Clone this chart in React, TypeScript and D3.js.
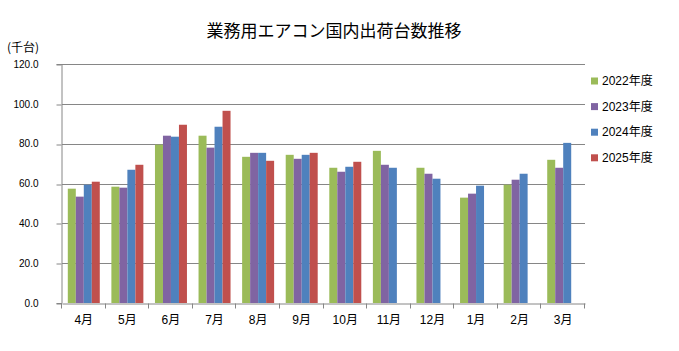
import { useEffect, useRef } from "react";
import * as d3 from "d3";

const WIDTH = 679;
const HEIGHT = 351;
const MARGIN = { top: 64, right: 94, bottom: 48, left: 62 };
const TICK_SIZE = 5;
const GRID_COLOR = "#868686";
const BAR_COLORS = ["#9BBB59", "#8064A2", "#4F81BD", "#C0504D"];
const JP_FONT = "'Noto Sans CJK JP', sans-serif";
const NUM_FONT = "'Liberation Sans', 'Noto Sans CJK JP', sans-serif";

const TITLE = "業務用エアコン国内出荷台数推移";
const UNIT_LABEL = "(千台)";
const MONTHS = ["4月", "5月", "6月", "7月", "8月", "9月", "10月", "11月", "12月", "1月", "2月", "3月"];
const SERIES = ["2022年度", "2023年度", "2024年度", "2025年度"];
const Y_TICKS = [0, 20, 40, 60, 80, 100, 120];

const FY2022 = [57.4, 58.4, 79.5, 84.0, 73.4, 74.4, 67.9, 76.4, 67.9, 52.9, 59.4, 71.9];
const FY2023 = [53.4, 57.9, 84.0, 78.0, 75.4, 72.4, 65.9, 69.4, 64.9, 54.9, 61.9, 67.9];
const FY2024 = [59.4, 66.9, 83.5, 88.5, 75.4, 74.4, 68.4, 67.9, 62.4, 58.9, 64.9, 80.4];
const FY2025 = [60.9, 69.4, 89.5, 96.5, 71.4, 75.4, 70.9, null, null, null, null, null];

const VALUES: (number | null)[][] = [FY2022, FY2023, FY2024, FY2025];

export default function App() {
  const svgRef = useRef<SVGSVGElement>(null);

  useEffect(() => {
    if (!svgRef.current) return;
    const svg = d3.select(svgRef.current);
    svg.selectAll("*").remove();

    const x = d3
      .scaleBand<string>()
      .domain(MONTHS)
      .range([MARGIN.left, WIDTH - MARGIN.right])
      .paddingInner(0)
      .paddingOuter(0);

    const xSeries = d3
      .scaleBand<string>()
      .domain(SERIES)
      .range([0, x.bandwidth()])
      .paddingInner(0)
      .paddingOuter(0.725);

    const y = d3
      .scaleLinear()
      .domain([0, 120])
      .range([HEIGHT - MARGIN.bottom, MARGIN.top]);

    const crisp = (v: number) => Math.round(v) + 0.5;

    // grid lines
    svg
      .append("g")
      .selectAll("line")
      .data(Y_TICKS.filter((t) => t > 0))
      .enter()
      .append("line")
      .attr("x1", MARGIN.left)
      .attr("x2", WIDTH - MARGIN.right)
      .attr("y1", (d) => crisp(y(d)))
      .attr("y2", (d) => crisp(y(d)))
      .attr("stroke", GRID_COLOR)
      .attr("stroke-width", 1);

    // bars
    const rows = MONTHS.flatMap((m, i) =>
      SERIES.map((s, j) => ({ month: m, series: s, idx: j, value: VALUES[j][i] }))
    ).filter((d) => d.value !== null);

    svg
      .append("g")
      .selectAll("rect")
      .data(rows)
      .enter()
      .append("rect")
      .attr("x", (d) => (x(d.month) ?? 0) + (xSeries(d.series) ?? 0))
      .attr("width", xSeries.bandwidth())
      .attr("y", (d) => y(d.value as number))
      .attr("height", (d) => y(0) - y(d.value as number))
      .attr("fill", (d) => BAR_COLORS[d.idx]);

    // y axis
    const yAxis = svg
      .append("g")
      .attr("transform", `translate(${crisp(MARGIN.left) - 1},0)`)
      .call(
        d3
          .axisLeft(y)
          .tickValues(Y_TICKS)
          .tickSize(TICK_SIZE)
          .tickPadding(18)
          .tickFormat((d) => (d as number).toFixed(1))
      );
    yAxis.select(".domain").attr("stroke", GRID_COLOR);
    yAxis
      .selectAll(".tick line")
      .attr("stroke", GRID_COLOR)
      .attr("transform", (d) => `translate(0,${crisp(y(d as number)) - y(d as number)})`);
    yAxis
      .selectAll(".tick text")
      .style("font-family", NUM_FONT)
      .style("font-size", "10px")
      .attr("fill", "#000");

    // x axis
    const xAxis = svg
      .append("g")
      .attr("transform", `translate(0,${crisp(y(0))})`)
      .call(d3.axisBottom(x).tickSize(0).tickPadding(12));
    xAxis.select(".domain").attr("stroke", GRID_COLOR);
    xAxis
      .selectAll(".tick text")
      .style("font-family", NUM_FONT)
      .style("font-size", "12px")
      .attr("fill", "#000");

    // category boundary ticks
    svg
      .append("g")
      .selectAll("line")
      .data([...MONTHS.map((m) => x(m) ?? 0), WIDTH - MARGIN.right])
      .enter()
      .append("line")
      .attr("x1", (d) => crisp(d) - 1)
      .attr("x2", (d) => crisp(d) - 1)
      .attr("y1", crisp(y(0)))
      .attr("y2", crisp(y(0)) + TICK_SIZE)
      .attr("stroke", GRID_COLOR);

    // title
    svg
      .append("text")
      .attr("x", 334)
      .attr("y", 37)
      .attr("text-anchor", "middle")
      .style("font-family", JP_FONT)
      .style("font-size", "17px")
      .text(TITLE);

    // unit
    svg
      .append("text")
      .attr("x", 7)
      .attr("y", 52)
      .style("font-family", JP_FONT)
      .style("font-size", "12px")
      .text(UNIT_LABEL);

    // legend
    const legend = svg.append("g").attr("transform", "translate(591, 81)");
    SERIES.forEach((s, i) => {
      const item = legend.append("g").attr("transform", `translate(0, ${i * 25.6})`);
      item
        .append("rect")
        .attr("x", 0)
        .attr("y", -3.5)
        .attr("width", 7)
        .attr("height", 7)
        .attr("fill", BAR_COLORS[i]);
      item
        .append("text")
        .attr("x", 11)
        .attr("y", 0)
        .attr("dy", "0.35em")
        .style("font-family", NUM_FONT)
        .style("font-size", "12px")
        .text(s);
    });
  }, []);

  return (
    <svg
      ref={svgRef}
      width={WIDTH}
      height={HEIGHT}
      style={{ position: "absolute", left: 0, top: 0, background: "#fff" }}
    ></svg>
  );
}
